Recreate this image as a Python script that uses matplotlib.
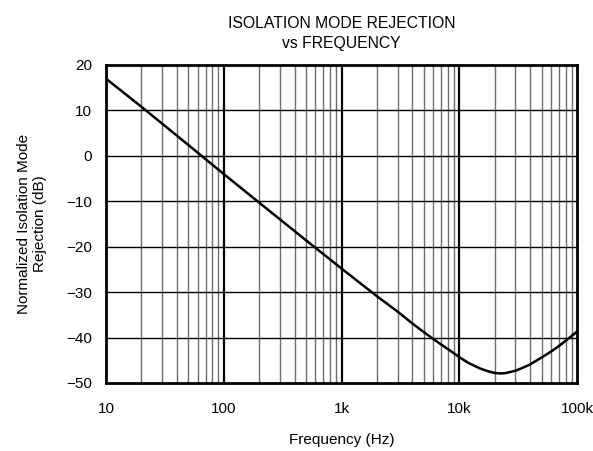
import numpy as np
import matplotlib
matplotlib.use("Agg")
from matplotlib import pyplot as plt
from matplotlib.ticker import FixedLocator, NullFormatter

plt.rcParams['font.family'] = ['Liberation Sans', 'DejaVu Sans']

# curve
freq = [10, 20, 50, 100, 200, 500, 1000, 2000, 3000, 4000, 5000, 6000, 7000,
        8500, 10000, 12000, 15000, 17500, 20000, 22500, 25000, 30000, 35000,
        40000, 50000, 60000, 70000, 80000, 100000]
imr_db = [17.0, 10.8, 2.4, -4.0, -10.3, -18.6, -24.8, -30.9, -34.3, -36.9,
          -38.8, -40.3, -41.5, -43.0, -44.3, -45.6, -46.8, -47.4, -47.8, -47.9,
          -47.8, -47.3, -46.6, -45.9, -44.4, -43.1, -41.9, -40.7, -38.7]

xticks = [10, 100, 1000, 10000, 100000]
xlabels = ["10", "100", "1k", "10k", "100k"]
yticks = [20, 10, 0, -10, -20, -30, -40, -50]
ylabels = ["20", "10", "0", "\u221210", "\u221220", "\u221230", "\u221240", "\u221250"]

fig = plt.figure(figsize=(5.93, 4.51), dpi=100)
ax = fig.add_axes([106 / 593, 1 - 383 / 451, 471 / 593, 318 / 451])

ax.set_xscale("log")
ax.set_xlim(10, 100000)
ax.set_ylim(-50, 20)

minors = [m * d for d in [10, 100, 1000, 10000] for m in range(2, 10)]
for x in minors:
    ax.axvline(x, color="#6e6e6e", lw=1.0, zorder=1)
for x in xticks[1:-1]:
    ax.axvline(x, color="black", lw=1.6, zorder=1)
for y in yticks[1:-1]:
    ax.axhline(y, color="black", lw=1.0, zorder=1)

ax.plot(freq, imr_db, color="black", lw=1.8, zorder=3)

ax.xaxis.set_major_locator(FixedLocator(xticks))
ax.xaxis.set_minor_locator(FixedLocator(minors))
ax.xaxis.set_minor_formatter(NullFormatter())
ax.set_xticklabels(xlabels)
ax.set_yticks(yticks)
ax.set_yticklabels(ylabels)
ax.tick_params(which="both", length=0, labelsize=11)
ax.tick_params(axis="x", pad=14)
ax.tick_params(axis="y", pad=10)

for s in ax.spines.values():
    s.set_linewidth(2)

ax.set_xlabel("Frequency (Hz)", fontsize=11, labelpad=12)
ax.set_ylabel("Normalized Isolation Mode\nRejection (dB)", fontsize=11, labelpad=14)
ax.set_title("ISOLATION MODE REJECTION\nvs FREQUENCY", fontsize=11.3, pad=12,
             linespacing=1.45)

fig.savefig("out.png", dpi=100)
